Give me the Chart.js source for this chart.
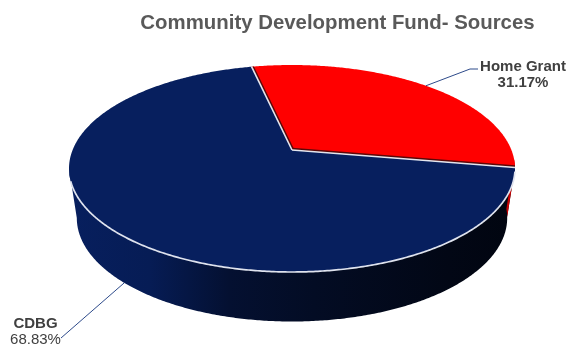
<!DOCTYPE html>
<html>
<head>
<meta charset="utf-8">
<title>Community Development Fund- Sources</title>
<script src="https://cdn.jsdelivr.net/npm/chart.js@4.4.1/dist/chart.umd.min.js"></script>
<style>
  html, body { margin: 0; padding: 0; background: #ffffff; }
  canvas { display: block; }
</style>
</head>
<body>
<canvas id="chart" width="569" height="345"></canvas>
<script>
// ---- data ----
const categories = ['Home Grant', 'CDBG'];
const shares = [31.17, 68.83];
const chartTitle = 'Community Development Fund- Sources';

// ---- styling ----
const sliceColors = ['#ff0000', '#071f5e'];
const FONT = '"Liberation Sans", Arial, Helvetica, sans-serif';

// Tilted disc: top ellipse centre / radii, apex shift from perspective, wall height
const DISC = { cx: 292, cy: 168.5, rx: 223, ry: 103.5, apexShift: -18.5, depth: 49.5, baseScale: 0.965 };

// Callout placement for each slice label
const labelLayout = [
  { bend: [470, 69], end: [478, 69], x: 523, y: 70.7, valueBold: true },
  { bend: null, end: [61, 338], x: 35.5, y: 327.7, valueBold: false }
];

// ---- perspective projection of the unit disc onto the page ----
const B = DISC.ry, D = DISC.apexShift, C = D / B;
const A = DISC.rx * Math.sqrt(B * B - D * D) / B;
const apex = [DISC.cx, DISC.cy + D];
const edgeR = Math.asin(-D / B);     // right silhouette angle
const edgeL = Math.PI - edgeR;       // left silhouette angle

function rimPoint(theta, lower) {
  const u = Math.cos(theta), v = Math.sin(theta), w = 1 + C * v;
  let x = A * u / w, y = (B * v + D) / w;
  if (lower) { x *= DISC.baseScale; y += DISC.depth; }
  return [DISC.cx + x, DISC.cy + y];
}

function traceRim(ctx, from, to, lower, start) {
  const n = Math.max(2, Math.ceil(Math.abs(to - from) / (Math.PI / 360)));
  for (let i = 0; i <= n; i++) {
    const p = rimPoint(from + (to - from) * i / n, lower);
    if (start && i === 0) ctx.moveTo(p[0], p[1]); else ctx.lineTo(p[0], p[1]);
  }
}

function rgb(hex) {
  const n = parseInt(hex.slice(1), 16);
  return [(n >> 16) & 255, (n >> 8) & 255, n & 255];
}
function shade(hex, f) {
  const c = rgb(hex);
  return 'rgb(' + c.map(v => Math.round(v * f)).join(',') + ')';
}

function wallFill(ctx, color, index) {
  if (index === 0) return shade(color, 0.8);
  const g = ctx.createLinearGradient(DISC.cx - DISC.rx, 0, DISC.cx + DISC.rx, 0);
  [[0, 1.0], [0.18, 0.9], [0.36, 0.52], [0.55, 0.38], [0.85, 0.22], [1, 0.17]]
    .forEach(([t, f]) => g.addColorStop(t, shade(color, f)));
  return g;
}

function drawWall(ctx, arc, fill) {
  const overhang = 5 * Math.PI / 180;
  for (let k = -1; k <= 1; k++) {
    const lo = Math.max(arc.startAngle + 2 * Math.PI * k, edgeR - overhang);
    const hi = Math.min(arc.endAngle + 2 * Math.PI * k, edgeL);
    if (hi <= lo) continue;
    ctx.beginPath();
    traceRim(ctx, lo, hi, false, true);
    traceRim(ctx, hi, lo, true, false);
    ctx.closePath();
    ctx.fillStyle = fill;
    ctx.fill();
  }
}

function topPath(ctx, arc) {
  ctx.beginPath();
  ctx.moveTo(apex[0], apex[1]);
  traceRim(ctx, arc.startAngle, arc.endAngle, false, false);
  ctx.closePath();
}

function radial(ctx, angle) {
  const p = rimPoint(angle, false);
  ctx.beginPath();
  ctx.moveTo(apex[0], apex[1]);
  ctx.lineTo(p[0], p[1]);
  ctx.stroke();
}

const disc3d = {
  id: 'disc3d',
  beforeDatasetsDraw(chart) {
    const ctx = chart.ctx;
    const arcs = chart.getDatasetMeta(0).data;
    ctx.save();
    ctx.lineJoin = 'round';

    // outer walls
    for (let i = arcs.length - 1; i >= 0; i--) {
      const arc = arcs[i];
      drawWall(ctx, arc, wallFill(ctx, arc.options.backgroundColor, i));
    }

    // top faces
    arcs.forEach(arc => {
      topPath(ctx, arc);
      ctx.fillStyle = arc.options.backgroundColor;
      ctx.fill();
    });

    // dark seam inside the red slice along its cut edges
    ctx.save();
    topPath(ctx, arcs[0]);
    ctx.clip();
    ctx.strokeStyle = '#5a0707';
    ctx.lineWidth = 4.5;
    radial(ctx, arcs[0].startAngle);
    radial(ctx, arcs[0].endAngle);
    ctx.restore();

    // light seams between slices
    ctx.strokeStyle = '#e4e6ee';
    ctx.lineWidth = 1.6;
    arcs.forEach(arc => radial(ctx, arc.startAngle));

    // light rim along the front edge of the top face
    ctx.beginPath();
    traceRim(ctx, edgeR + 0.03, edgeL - 0.12, false, true);
    ctx.strokeStyle = '#dfe3ee';
    ctx.lineWidth = 1.7;
    ctx.stroke();

    ctx.restore();
    return false;
  },
  afterDraw(chart) {
    const ctx = chart.ctx;
    const arcs = chart.getDatasetMeta(0).data;
    ctx.save();
    arcs.forEach((arc, i) => {
      const lay = labelLayout[i];
      const mid = (arc.startAngle + arc.endAngle) / 2;
      const front = Math.sin(mid) > -D / B;
      const a = rimPoint(mid, front);

      ctx.beginPath();
      ctx.moveTo(a[0], a[1]);
      if (lay.bend) ctx.lineTo(lay.bend[0], lay.bend[1]);
      ctx.lineTo(lay.end[0], lay.end[1]);
      ctx.strokeStyle = '#2d4a8a';
      ctx.lineWidth = 1;
      ctx.stroke();

      ctx.fillStyle = '#404040';
      ctx.textAlign = 'center';
      ctx.textBaseline = 'alphabetic';
      ctx.font = 'bold 15px ' + FONT;
      ctx.fillText(categories[i], lay.x, lay.y);
      ctx.font = (lay.valueBold ? 'bold ' : '') + '15px ' + FONT;
      ctx.fillText(shares[i].toFixed(2) + '%', lay.x, lay.y + 16);
    });
    ctx.restore();
  }
};

new Chart(document.getElementById('chart'), {
  type: 'pie',
  data: {
    labels: categories,
    datasets: [{ data: shares, backgroundColor: sliceColors, borderWidth: 0 }]
  },
  options: {
    responsive: false,
    animation: false,
    events: [],
    rotation: -12.5,
    layout: { padding: { left: 106 } },
    plugins: {
      legend: { display: false },
      tooltip: { enabled: false },
      title: {
        display: true,
        text: chartTitle,
        color: '#595959',
        font: { family: FONT, size: 20.4, weight: 'bold' },
        padding: { top: 10.7, bottom: 0 }
      }
    }
  },
  plugins: [disc3d]
});
</script>
</body>
</html>
